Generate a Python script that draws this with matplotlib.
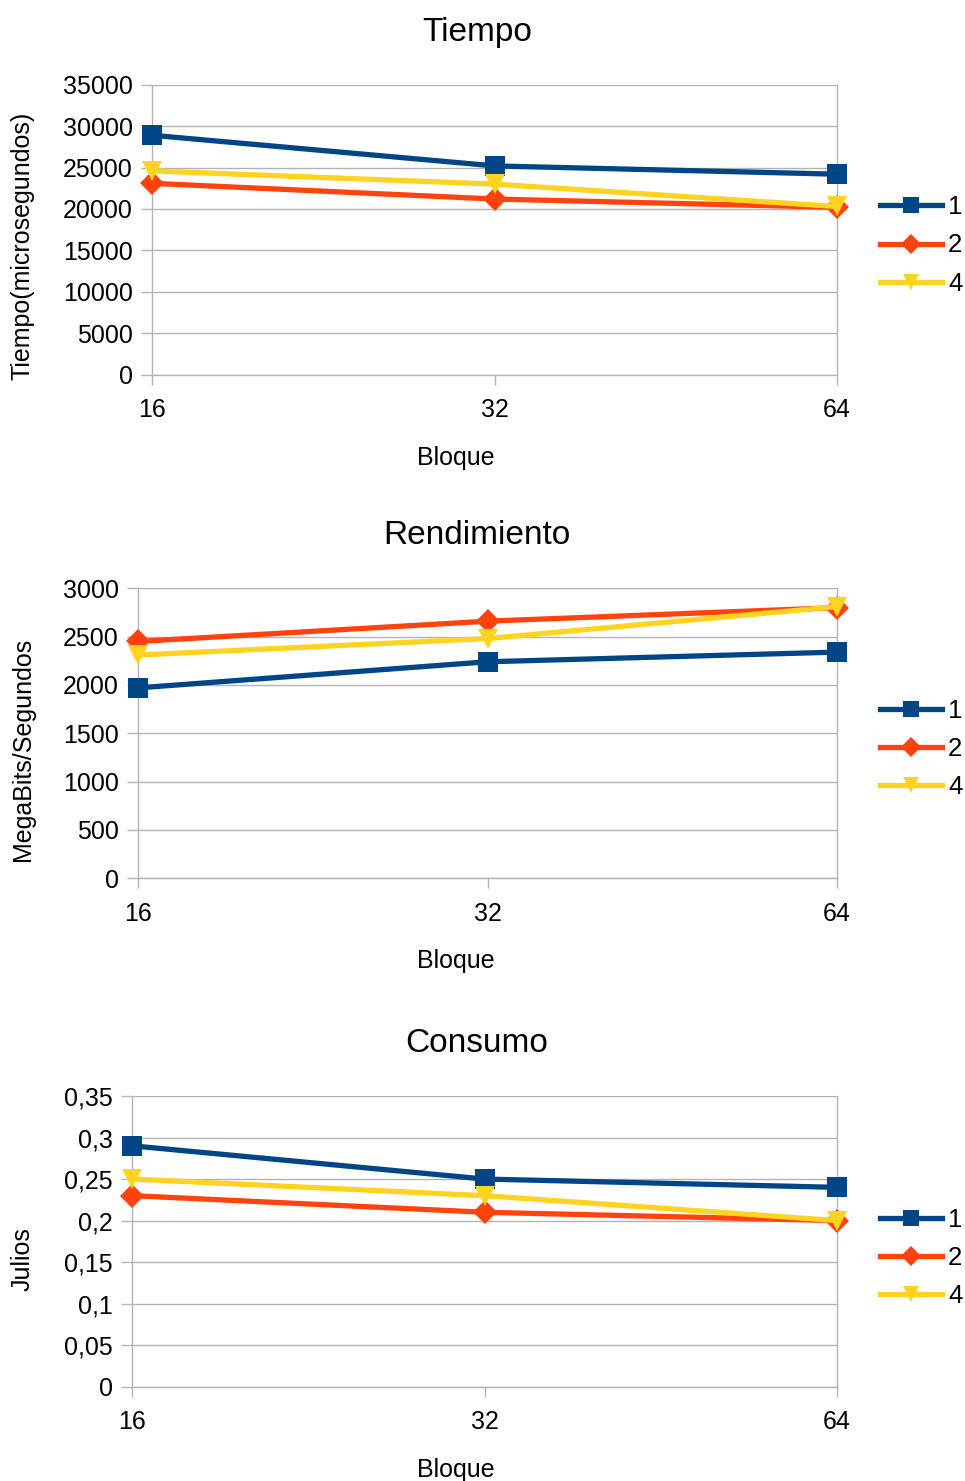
import matplotlib
matplotlib.use("Agg")
import matplotlib.pyplot as plt
from matplotlib.ticker import FuncFormatter, MultipleLocator

plt.rcParams['font.family'] = ['Liberation Sans', 'DejaVu Sans']

# Block sizes (categorical x axis)
bloques = ["16", "32", "64"]
series_names = ["1", "2", "4"]

# Tiempo (microsegundos)
tiempo_1 = [28900, 25200, 24200]
tiempo_2 = [23100, 21200, 20200]
tiempo_4 = [24600, 23000, 20300]

# Rendimiento (MegaBits/Segundos)
rend_1 = [1970, 2240, 2340]
rend_2 = [2450, 2660, 2800]
rend_4 = [2310, 2480, 2810]

# Consumo (Julios)
consumo_1 = [0.29, 0.25, 0.24]
consumo_2 = [0.23, 0.21, 0.20]
consumo_4 = [0.25, 0.23, 0.20]

colors = ["#004586", "#ff420e", "#ffd320"]
markers = ["s", "D", "v"]
msizes = [14, 12, 14]
GRID = "#b3b3b3"

W, H = 965, 1481
fig = plt.figure(figsize=(W / 100, H / 100), dpi=100)


def px(x, y):
    return x / W, 1 - y / H


def make_panel(left, top, bottom, right, data, ylim, step, title, ylabel,
               ylabel_y, leg_y, title_y, fmt=None):
    x0, y_top = px(left, top)
    x1, y_bot = px(right, bottom)
    ax = fig.add_axes([x0, y_bot, x1 - x0, y_top - y_bot])
    xs = range(len(bloques))
    for vals, name, c, m, ms in zip(data, series_names, colors, markers, msizes):
        ax.plot(xs, vals, color=c, lw=3.8, marker=m, markersize=ms,
                markeredgewidth=0, label=name, clip_on=False, zorder=3)
    ax.set_xlim(0, len(bloques) - 1)
    ax.set_ylim(*ylim)
    ax.yaxis.set_major_locator(MultipleLocator(step))
    if fmt is not None:
        ax.yaxis.set_major_formatter(FuncFormatter(fmt))
    ax.set_xticks(list(xs))
    ax.set_xticklabels(bloques)
    ax.grid(axis="y", color=GRID, lw=1.0, zorder=0)
    ax.set_axisbelow(True)
    for s in ["left", "bottom", "right"]:
        ax.spines[s].set_color(GRID)
        ax.spines[s].set_linewidth(1.0)
    ax.spines["top"].set_visible(False)
    ax.tick_params(axis="y", direction="out", length=8, width=1.0,
                   color=GRID, labelsize=18, pad=6)
    ax.tick_params(axis="x", direction="out", length=7.5, width=1.0,
                   color=GRID, labelsize=18, pad=9.5)
    fig.text(477 / W, 1 - (title_y + 3) / H, title, ha="center",
             va="center", fontsize=24)
    fig.text(456 / W, 1 - (bottom + 83) / H, "Bloque", ha="center",
             va="center", fontsize=18)
    fig.text(23 / W, 1 - ylabel_y / H, ylabel, ha="center", va="center",
             rotation=90, fontsize=18)
    ax.legend(loc="center left", bbox_to_anchor=(880 / W, 1 - (leg_y + 2) / H),
              bbox_transform=fig.transFigure, frameon=False, fontsize=18.5,
              borderpad=0, borderaxespad=0, handlelength=2.4,
              handletextpad=0.25, labelspacing=0.55, markerscale=0.85)
    return ax


def comma(v, _pos):
    s = ("%.2f" % v).rstrip("0").rstrip(".")
    return s.replace(".", ",")


make_panel(152, 84.7, 374.7, 837, [tiempo_1, tiempo_2, tiempo_4],
           (0, 35000), 5000, "Tiempo", "Tiempo(microsegundos)",
           246, 243.5, 30)
make_panel(138.3, 588.3, 878.3, 837, [rend_1, rend_2, rend_4],
           (0, 3000), 500, "Rendimiento", "MegaBits/Segundos",
           749, 747, 532)
make_panel(132.3, 1096, 1386.7, 837, [consumo_1, consumo_2, consumo_4],
           (0, 0.35), 0.05, "Consumo", "Julios",
           1259, 1256, 1040, fmt=comma)

fig.savefig("out.png", dpi=100, facecolor="white")
